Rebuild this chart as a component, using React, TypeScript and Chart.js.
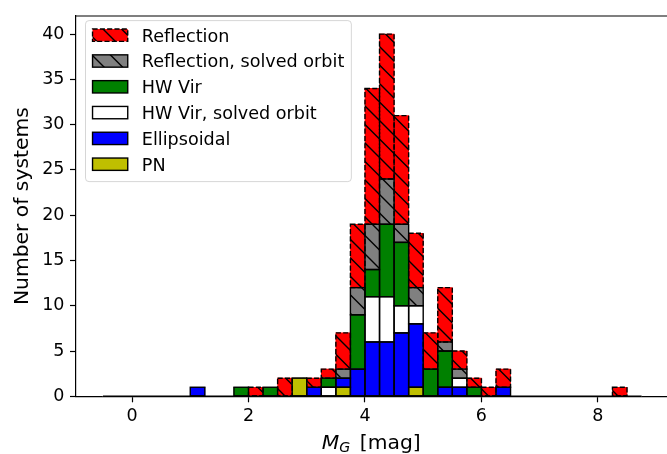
import React, { useEffect, useRef } from "react";
import { Chart, registerables } from "chart.js";

Chart.register(...registerables);

// Histogram bin centres (bin width 0.25 mag, from -0.5 to 8.75)
const binCenters = [
  -0.375, -0.125, 0.125, 0.375, 0.625, 0.875, 1.125, 1.375, 1.625, 1.875,
  2.125, 2.375, 2.625, 2.875, 3.125, 3.375, 3.625, 3.875, 4.125, 4.375,
  4.625, 4.875, 5.125, 5.375, 5.625, 5.875, 6.125, 6.375, 6.625, 6.875,
  7.125, 7.375, 7.625, 7.875, 8.125, 8.375, 8.625,
];

// Stacked from the bottom up
const pnCounts = [
  0, 0, 0, 0, 0, 0, 0, 0, 0, 0,
  0, 0, 0, 2, 0, 0, 1, 0, 0, 0,
  0, 1, 0, 0, 0, 0, 0, 0, 0, 0,
  0, 0, 0, 0, 0, 0, 0,
];
const ellipsoidalCounts = [
  0, 0, 0, 0, 0, 0, 1, 0, 0, 0,
  0, 0, 0, 0, 1, 0, 1, 3, 6, 6,
  7, 7, 0, 1, 1, 0, 0, 1, 0, 0,
  0, 0, 0, 0, 0, 0, 0,
];
const hwVirSolvedCounts = [
  0, 0, 0, 0, 0, 0, 0, 0, 0, 0,
  0, 0, 0, 0, 0, 1, 0, 0, 5, 5,
  3, 2, 0, 0, 1, 0, 0, 0, 0, 0,
  0, 0, 0, 0, 0, 0, 0,
];
const hwVirCounts = [
  0, 0, 0, 0, 0, 0, 0, 0, 0, 1,
  0, 1, 0, 0, 0, 1, 0, 6, 3, 8,
  7, 0, 3, 4, 0, 1, 0, 0, 0, 0,
  0, 0, 0, 0, 0, 0, 0,
];
const reflectionSolvedCounts = [
  0, 0, 0, 0, 0, 0, 0, 0, 0, 0,
  0, 0, 0, 0, 0, 0, 1, 3, 5, 5,
  2, 2, 0, 1, 1, 0, 0, 0, 0, 0,
  0, 0, 0, 0, 0, 0, 0,
];
const reflectionCounts = [
  0, 0, 0, 0, 0, 0, 0, 0, 0, 0,
  1, 0, 2, 0, 1, 1, 4, 7, 15, 16,
  12, 6, 4, 6, 2, 1, 1, 2, 0, 0,
  0, 0, 0, 0, 0, 1, 0,
];

const seriesLabels = [
  "PN",
  "Ellipsoidal",
  "HW Vir, solved orbit",
  "HW Vir",
  "Reflection, solved orbit",
  "Reflection",
];

const xTickValues = [0, 2, 4, 6, 8];
const yTickValues = [0, 5, 10, 15, 20, 25, 30, 35, 40];

const FONT = '"DejaVu Sans", sans-serif';
const TICK_FS = 17.5;
const LEGEND_FS = 17.6;
const LABEL_FS = 20.3;

export default function App() {
  const ref = useRef<HTMLCanvasElement>(null);

  useEffect(() => {
    const canvas = ref.current!;
    const ctx0 = canvas.getContext("2d")!;

    const hatch = (color: string) => {
      const s = 18.5;
      const n = 37;
      const tile = document.createElement("canvas");
      tile.width = n;
      tile.height = n;
      const g = tile.getContext("2d")!;
      g.fillStyle = color;
      g.fillRect(0, 0, n, n);
      g.strokeStyle = "#000";
      g.lineWidth = 1.4;
      g.beginPath();
      for (let k = -2; k <= 2; k++) {
        g.moveTo(k * s - 2, -2);
        g.lineTo(k * s + n + 2, n + 2);
      }
      g.stroke();
      return ctx0.createPattern(tile, "repeat")!;
    };

    const styles: any[] = [
      { fill: "#bfbf00", dashed: false },
      { fill: "#0000ff", dashed: false },
      { fill: "#ffffff", dashed: false },
      { fill: "#008000", dashed: false },
      { fill: hatch("#808080"), dashed: false },
      { fill: hatch("#ff0000"), dashed: true },
    ];
    const counts = [
      pnCounts,
      ellipsoidalCounts,
      hwVirSolvedCounts,
      hwVirCounts,
      reflectionSolvedCounts,
      reflectionCounts,
    ];

    const datasets: any[] = counts.map((arr, i) => ({
      label: seriesLabels[i],
      data: arr.map((v, j) => ({ x: binCenters[j], y: v })),
      backgroundColor: styles[i].fill,
      borderWidth: 0,
      barPercentage: 1,
      categoryPercentage: 1,
      dashedEdge: styles[i].dashed,
    }));

    const edgePlugin = {
      id: "edges",
      afterDatasetsDraw(chart: any) {
        const { ctx, scales } = chart;
        ctx.save();
        ctx.strokeStyle = "#000";
        ctx.lineWidth = 1.4;
        chart.data.datasets.forEach((ds: any, i: number) => {
          const meta = chart.getDatasetMeta(i);
          ctx.setLineDash(ds.dashedEdge ? [5.1, 2.2] : []);
          meta.data.forEach((el: any, j: number) => {
            if (!(ds.data[j].y > 0)) return;
            const p = el.getProps(["x", "y", "base", "width"], true);
            ctx.strokeRect(p.x - p.width / 2, p.y, p.width, p.base - p.y);
          });
        });
        ctx.setLineDash([]);
        const m0 = chart.getDatasetMeta(0).data;
        const first = m0[0].getProps(["x", "width"], true);
        const last = m0[m0.length - 1].getProps(["x", "width"], true);
        const y0 = scales.y.getPixelForValue(0);
        ctx.beginPath();
        ctx.moveTo(first.x - first.width / 2, y0);
        ctx.lineTo(last.x + last.width / 2, y0);
        ctx.stroke();
        ctx.restore();
      },
    };

    const decorPlugin = {
      id: "decor",
      afterDraw(chart: any) {
        const { ctx, chartArea: ca } = chart;
        ctx.save();
        // top & right spines
        ctx.strokeStyle = "#000";
        ctx.lineWidth = 1.2;
        ctx.beginPath();
        ctx.moveTo(ca.left, ca.top);
        ctx.lineTo(ca.right, ca.top);
        ctx.lineTo(ca.right, ca.bottom);
        ctx.stroke();

        // x-axis label: M_G [mag]
        const cx = (ca.left + ca.right) / 2;
        const baseY = 449.3;
        const fM = `italic ${LABEL_FS}px ${FONT}`;
        const fG = `italic ${LABEL_FS * 0.7}px ${FONT}`;
        const fN = `${LABEL_FS}px ${FONT}`;
        ctx.font = fM;
        const wM = ctx.measureText("M").width;
        ctx.font = fG;
        const wG = ctx.measureText("G").width;
        ctx.font = fN;
        const rest = " [mag]";
        const wR = ctx.measureText(rest).width;
        const gap = 3;
        const total = wM + wG + gap + wR;
        let x = cx - total / 2 - 1;
        ctx.fillStyle = "#000";
        ctx.textBaseline = "alphabetic";
        ctx.textAlign = "left";
        ctx.font = fM;
        ctx.fillText("M", x, baseY);
        x += wM;
        ctx.font = fG;
        ctx.fillText("G", x, baseY + 3);
        x += wG + gap;
        ctx.font = fN;
        ctx.fillText(rest, x, baseY);

        // legend
        const fs = LEGEND_FS;
        ctx.font = `${fs}px ${FONT}`;
        const items = chart.data.datasets.slice().reverse();
        const maxW = Math.max(...items.map((d: any) => ctx.measureText(d.label).width));
        const pad = 0.4 * fs;
        const handleW = 2 * fs;
        const handleH = 0.7 * fs;
        const textPad = 0.8 * fs;
        const x0 = 85.5;
        const y0 = 20.6;
        const w = pad + handleW + textPad + maxW + pad;
        const h = 161;
        const rowH = 25.8;
        const r = 0.2 * fs;
        ctx.beginPath();
        ctx.moveTo(x0 + r, y0);
        ctx.lineTo(x0 + w - r, y0);
        ctx.arcTo(x0 + w, y0, x0 + w, y0 + r, r);
        ctx.lineTo(x0 + w, y0 + h - r);
        ctx.arcTo(x0 + w, y0 + h, x0 + w - r, y0 + h, r);
        ctx.lineTo(x0 + r, y0 + h);
        ctx.arcTo(x0, y0 + h, x0, y0 + h - r, r);
        ctx.lineTo(x0, y0 + r);
        ctx.arcTo(x0, y0, x0 + r, y0, r);
        ctx.closePath();
        ctx.fillStyle = "rgba(255,255,255,0.8)";
        ctx.fill();
        ctx.strokeStyle = "rgba(204,204,204,0.8)";
        ctx.lineWidth = 1;
        ctx.stroke();

        items.forEach((d: any, i: number) => {
          const cy = y0 + 14.6 + i * rowH;
          const hx = x0 + pad;
          ctx.fillStyle = d.backgroundColor;
          ctx.fillRect(hx, cy - handleH / 2, handleW, handleH);
          ctx.strokeStyle = "#000";
          ctx.lineWidth = 1.4;
          ctx.setLineDash(d.dashedEdge ? [5.1, 2.2] : []);
          ctx.strokeRect(hx, cy - handleH / 2, handleW, handleH);
          ctx.setLineDash([]);
          ctx.fillStyle = "#000";
          ctx.fillText(d.label, hx + handleW + textPad, cy + 0.729 * fs / 2);
        });
        ctx.restore();
      },
    };

    const chart = new Chart(canvas, {
      type: "bar",
      data: { datasets },
      options: {
        animation: false,
        responsive: false,
        devicePixelRatio: 1,
        layout: { padding: { left: 0, top: 11.4, right: 700 - 668.5, bottom: 0 } },
        plugins: { legend: { display: false }, tooltip: { enabled: false } },
        scales: {
          x: {
            type: "linear",
            stacked: true,
            offset: false,
            min: -0.9625,
            max: 9.2125,
            afterBuildTicks: (s: any) => {
              s.ticks = xTickValues.map((v) => ({ value: v }));
            },
            afterFit: (s: any) => {
              s.height = 454 - 396.3;
            },
            grid: {
              offset: false,
              drawOnChartArea: false,
              drawTicks: true,
              tickLength: 6,
              tickWidth: 1.2,
              tickColor: "#000",
            },
            border: { display: true, color: "#000", width: 1.2 },
            ticks: {
              color: "#000",
              padding: 4,
              maxRotation: 0,
              autoSkip: false,
              font: { family: FONT, size: TICK_FS },
            },
          },
          y: {
            type: "linear",
            stacked: true,
            min: 0,
            max: 42,
            afterBuildTicks: (s: any) => {
              s.ticks = yTickValues.map((v) => ({ value: v }));
            },
            afterFit: (s: any) => {
              s.width = 76;
            },
            grid: {
              offset: false,
              drawOnChartArea: false,
              drawTicks: true,
              tickLength: 6,
              tickWidth: 1.2,
              tickColor: "#000",
            },
            border: { display: true, color: "#000", width: 1.2 },
            ticks: {
              color: "#000",
              padding: 5.5,
              autoSkip: false,
              font: { family: FONT, size: TICK_FS },
            },
            title: {
              display: true,
              text: "Number of systems",
              color: "#000",
              padding: { top: 11, bottom: 0 },
              font: { family: FONT, size: LABEL_FS },
            },
          },
        },
      } as any,
      plugins: [edgePlugin, decorPlugin],
    });

    return () => chart.destroy();
  }, []);

  return (
    <div
      style={{
        position: "fixed",
        left: 0,
        top: 0,
        width: 667,
        height: 454,
        overflow: "hidden",
        background: "#fff",
      }}
    >
      <canvas ref={ref} width={700} height={454} style={{ width: 700, height: 454, display: "block" }} />
    </div>
  );
}
